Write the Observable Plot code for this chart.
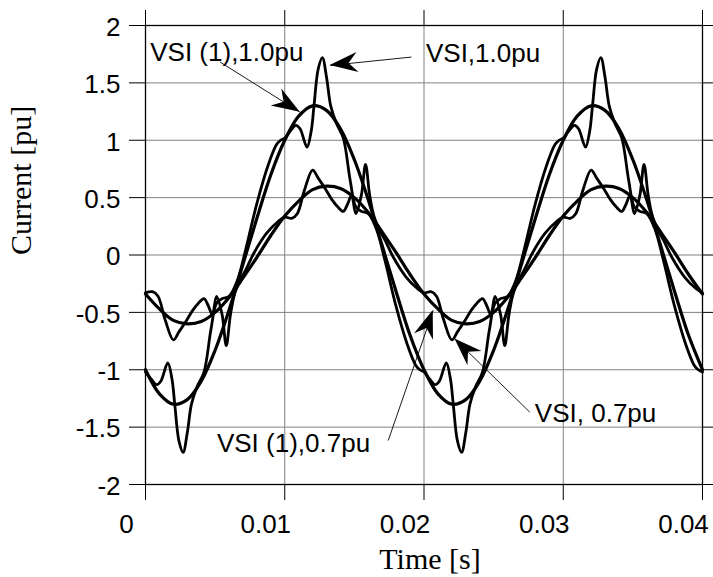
<!DOCTYPE html>
<html>
<head>
<meta charset="utf-8">
<script src="https://cdn.jsdelivr.net/npm/d3@7"></script>
<script src="https://cdn.jsdelivr.net/npm/@observablehq/plot@0.6"></script>
<style>
html, body { margin: 0; padding: 0; background: #fff; overflow: hidden; }
#chart svg { display: block; }
</style>
</head>
<body>
<div id="chart"></div>
<script>
// ---- Axis ticks ----
const xTicks = [0, 0.01, 0.02, 0.03, 0.04];
const xTickLabels = ["0", "0.01", "0.02", "0.03", "0.04"];
const yTicks = [2, 1.5, 1, 0.5, 0, -0.5, -1, -1.5, -2];
const yTickLabels = ["2", "1.5", "1", "0.5", "0", "-0.5", "-1", "-1.5", "-2"];

// ---- Fundamental components (sampled every 1 ms) ----
const fundT = [0,0.001,0.002,0.003,0.004,0.005,0.006,0.007,0.008,0.009,
  0.010,0.011,0.012,0.013,0.014,0.015,0.016,0.017,0.018,0.019,
  0.020,0.021,0.022,0.023,0.024,0.025,0.026,0.027,0.028,0.029,
  0.030,0.031,0.032,0.033,0.034,0.035,0.036,0.037,0.038,0.039,0.040];
const vsiFund10 = [-1.00,-1.21,-1.30,-1.26,-1.10,-0.83,-0.48,-0.08,0.32,0.70,
  1.00,1.21,1.30,1.26,1.10,0.83,0.48,0.08,-0.32,-0.70,
  -1.00,-1.21,-1.30,-1.26,-1.10,-0.83,-0.48,-0.08,0.32,0.70,
  1.00,1.21,1.30,1.26,1.10,0.83,0.48,0.08,-0.32,-0.70,-1.00];
const vsiFund07 = [-0.34,-0.47,-0.57,-0.60,-0.58,-0.50,-0.37,-0.20,-0.02,0.17,
  0.34,0.47,0.57,0.60,0.58,0.50,0.37,0.20,0.02,-0.17,
  -0.34,-0.47,-0.57,-0.60,-0.58,-0.50,-0.37,-0.20,-0.02,0.17,
  0.34,0.47,0.57,0.60,0.58,0.50,0.37,0.20,0.02,-0.17,-0.34];

// ---- VSI current, 1.0 pu ----
const vsi10T = [0,0.0004,0.0008,0.0011,0.0016,0.0019,0.0021,0.0024,0.0027,0.0030,0.0033,0.0037,0.0042,0.0047,0.0051,0.0055,0.0060,0.0066,0.0072,0.0080,0.0088,0.0094,0.0097,
  0.0100,0.0104,0.0108,0.0111,0.0116,0.0119,0.0121,0.0124,0.0127,0.0130,0.0133,0.0137,0.0142,0.0147,0.0151,0.0155,0.0160,0.0166,0.0172,0.0180,0.0188,0.0194,0.0197,
  0.0200,0.0204,0.0208,0.0211,0.0216,0.0219,0.0221,0.0224,0.0227,0.0230,0.0233,0.0237,0.0242,0.0247,0.0251,0.0255,0.0260,0.0266,0.0272,0.0280,0.0288,0.0294,0.0297,
  0.0300,0.0304,0.0308,0.0311,0.0316,0.0319,0.0321,0.0324,0.0327,0.0330,0.0333,0.0337,0.0342,0.0347,0.0351,0.0355,0.0360,0.0366,0.0372,0.0380,0.0388,0.0394,0.0397,
  0.0400];
const vsi10V = [-1.02,-1.08,-1.13,-1.10,-0.94,-1.08,-1.30,-1.62,-1.72,-1.55,-1.30,-1.15,-1.02,-0.65,-0.42,-0.38,-0.36,-0.22,0.05,0.45,0.78,0.96,1.00,
  1.02,1.08,1.13,1.10,0.94,1.08,1.30,1.62,1.72,1.55,1.30,1.15,1.02,0.65,0.42,0.38,0.36,0.22,-0.05,-0.45,-0.78,-0.96,-1.00,
  -1.02,-1.08,-1.13,-1.10,-0.94,-1.08,-1.30,-1.62,-1.72,-1.55,-1.30,-1.15,-1.02,-0.65,-0.42,-0.38,-0.36,-0.22,0.05,0.45,0.78,0.96,1.00,
  1.02,1.08,1.13,1.10,0.94,1.08,1.30,1.62,1.72,1.55,1.30,1.15,1.02,0.65,0.42,0.38,0.36,0.22,-0.05,-0.45,-0.78,-0.96,-1.00,
  -1.02];

// ---- VSI current, 0.7 pu ----
const vsi07T = [0,0.0005,0.0009,0.0014,0.0020,0.0024,0.0029,0.0034,0.0038,0.0042,0.0045,0.0048,0.0051,0.0055,0.0058,0.0061,0.0064,0.0068,0.0072,0.0078,0.0087,0.0095,
  0.0100,0.0105,0.0109,0.0114,0.0120,0.0124,0.0129,0.0134,0.0138,0.0142,0.0145,0.0148,0.0151,0.0155,0.0158,0.0161,0.0164,0.0168,0.0172,0.0178,0.0187,0.0195,
  0.0200,0.0205,0.0209,0.0214,0.0220,0.0224,0.0229,0.0234,0.0238,0.0242,0.0245,0.0248,0.0251,0.0255,0.0258,0.0261,0.0264,0.0268,0.0272,0.0278,0.0287,0.0295,
  0.0300,0.0305,0.0309,0.0314,0.0320,0.0324,0.0329,0.0334,0.0338,0.0342,0.0345,0.0348,0.0351,0.0355,0.0358,0.0361,0.0364,0.0368,0.0372,0.0378,0.0387,0.0395,
  0.0400];
const vsi07V = [-0.33,-0.32,-0.36,-0.56,-0.74,-0.67,-0.58,-0.48,-0.42,-0.38,-0.44,-0.52,-0.36,-0.52,-0.79,-0.52,-0.34,-0.22,-0.13,0.02,0.19,0.29,
  0.33,0.32,0.36,0.56,0.74,0.67,0.58,0.48,0.42,0.38,0.44,0.52,0.36,0.52,0.79,0.52,0.34,0.22,0.13,-0.02,-0.19,-0.29,
  -0.33,-0.32,-0.36,-0.56,-0.74,-0.67,-0.58,-0.48,-0.42,-0.38,-0.44,-0.52,-0.36,-0.52,-0.79,-0.52,-0.34,-0.22,-0.13,0.02,0.19,0.29,
  0.33,0.32,0.36,0.56,0.74,0.67,0.58,0.48,0.42,0.38,0.44,0.52,0.36,0.52,0.79,0.52,0.34,0.22,0.13,-0.02,-0.19,-0.29,
  -0.33];

// ---- Annotations ----
const annLabels = ["VSI (1),1.0pu", "VSI,1.0pu", "VSI (1),0.7pu", "VSI, 0.7pu"];
const annT = [0.00034, 0.02014, 0.00513, 0.02796];
const annV = [1.765, 1.752, -1.645, -1.384];
const arrowT1 = [0.00536, 0.0191, 0.01743, 0.0276];
const arrowV1 = [1.681, 1.725, -1.617, -1.370];
const arrowT2 = [0.01111, 0.01326, 0.02066, 0.02222];
const arrowV2 = [1.243, 1.652, -0.484, -0.732];

const sans = "'Liberation Sans', Arial, Helvetica, sans-serif";
const serif = "'Liberation Serif', 'Times New Roman', Times, serif";

// filled barbed arrowheads placed through the plot's scales
const arrowHeads = (index, scales) => {
  const g = d3.create("svg:g").attr("aria-label", "arrowheads");
  for (let i = 0; i < arrowT2.length; i++) {
    const x1 = scales.x(arrowT1[i]), y1 = scales.y(arrowV1[i]);
    const x2 = scales.x(arrowT2[i]), y2 = scales.y(arrowV2[i]);
    const a = Math.atan2(y2 - y1, x2 - x1) * 180 / Math.PI;
    g.append("path")
      .attr("d", "M0,0L-28,-10L-19,0L-28,10Z")
      .attr("transform", `translate(${x2},${y2}) rotate(${a})`)
      .attr("fill", "black");
  }
  return g.node();
};

const lineCurve = "catmull-rom";

const chart = Plot.plot({
  width: 713,
  height: 577,
  marginLeft: 145,
  marginRight: 11,
  marginTop: 25,
  marginBottom: 93,
  style: { fontFamily: sans, fontSize: "26px", background: "white", color: "black" },
  x: { domain: [0, 0.04], label: null },
  y: { domain: [-2, 2], label: null },
  marks: [
    Plot.gridX({ ticks: xTicks, stroke: "#808080", strokeOpacity: 1, strokeWidth: 1 }),
    Plot.gridY({ ticks: yTicks, stroke: "#808080", strokeOpacity: 1, strokeWidth: 1 }),
    // outward tick marks on all four sides
    Plot.axisX({ anchor: "bottom", ticks: xTicks, tickSize: 16, tickFormat: () => "", label: null }),
    Plot.axisX({ anchor: "top", ticks: xTicks, tickSize: 16, tickFormat: () => "", label: null }),
    Plot.axisY({ anchor: "left", ticks: yTicks, tickSize: 16, tickFormat: () => "", label: null }),
    Plot.axisY({ anchor: "right", ticks: yTicks, tickSize: 11, tickFormat: () => "", label: null }),
    // tick labels
    Plot.axisX({ anchor: "bottom", ticks: xTicks, tickSize: 0, tickPadding: 30, dx: -19, fontSize: 26,
      tickFormat: d => xTickLabels[xTicks.indexOf(d)], label: null }),
    Plot.axisY({ anchor: "left", ticks: yTicks, tickSize: 0, tickPadding: 25, dy: 2, fontSize: 26,
      tickFormat: d => yTickLabels[yTicks.indexOf(d)], label: null }),
    Plot.frame({ stroke: "black", strokeWidth: 1.3 }),
    // curves
    Plot.line(vsiFund10, { x: fundT, y: vsiFund10, stroke: "black", strokeWidth: 3.2, curve: lineCurve }),
    Plot.line(vsiFund07, { x: fundT, y: vsiFund07, stroke: "black", strokeWidth: 3.2, curve: lineCurve }),
    Plot.line(vsi10V, { x: vsi10T, y: vsi10V, stroke: "black", strokeWidth: 2.8, curve: lineCurve }),
    Plot.line(vsi07V, { x: vsi07T, y: vsi07V, stroke: "black", strokeWidth: 2.8, curve: lineCurve }),
    // annotations
    Plot.link(arrowT1, { x1: arrowT1, y1: arrowV1, x2: arrowT2, y2: arrowV2, stroke: "black", strokeWidth: 0.9 }),
    arrowHeads,
    Plot.text(annLabels, { x: annT, y: annV, text: annLabels, textAnchor: "start", lineAnchor: "middle",
      fontSize: 26, fontFamily: sans, fill: "black" }),
    // axis titles
    Plot.text(["Time [s]"], { frameAnchor: "bottom", lineAnchor: "middle", dy: 75, dx: 6,
      fontFamily: serif, fontSize: 30, fill: "black" }),
    Plot.text(["Current [pu]"], { frameAnchor: "left", lineAnchor: "middle", rotate: -90, dx: -124,
      fontFamily: serif, fontSize: 30, fill: "black" })
  ]
});

document.getElementById("chart").appendChild(chart);
</script>
</body>
</html>
